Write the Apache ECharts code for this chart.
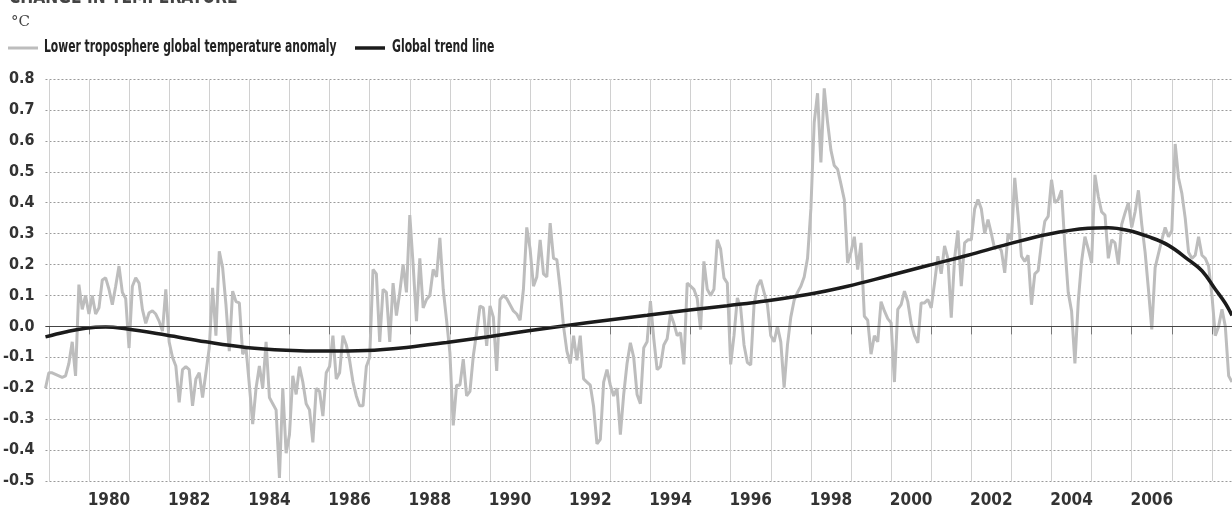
<!DOCTYPE html>
<html>
<head>
<meta charset="utf-8">
<script src="https://cdn.jsdelivr.net/npm/echarts@6/dist/echarts.min.js"></script>
<style>
html,body{margin:0;padding:0;background:#fff;}
#chart{width:1232px;height:509px;}
</style>
</head>
<body>
<div id="chart"></div>
<script>
// ---- DATA ----
var startYear = 1978, startMonth = 12, monthCount = 356;   // Dec 1978 .. Jul 2008
var titleText = 'CHANGE IN TEMPERATURE';
var unitText = '°C';
var seriesNames = ['Lower troposphere global temperature anomaly', 'Global trend line'];

// monthly lower troposphere anomaly (°C), Dec 1978 onward
var anomaly = [
-0.20,-0.15,-0.15,-0.155,-0.16,-0.165,-0.16,-0.12,-0.05,-0.16,
0.135,0.055,0.10,0.04,0.10,0.04,0.06,0.15,0.157,0.12,
0.07,0.13,0.195,0.11,0.09,-0.07,0.13,0.157,0.14,0.055,
0.01,0.044,0.05,0.04,0.017,-0.015,0.12,-0.05,-0.10,-0.128,
-0.246,-0.14,-0.13,-0.14,-0.257,-0.17,-0.15,-0.23,-0.15,-0.07,
0.125,-0.03,0.243,0.19,0.07,-0.08,0.114,0.08,0.076,-0.09,
-0.07,-0.19,-0.316,-0.20,-0.128,-0.20,-0.05,-0.23,-0.25,-0.27,
-0.49,-0.20,-0.41,-0.35,-0.16,-0.22,-0.13,-0.18,-0.25,-0.27,
-0.375,-0.20,-0.21,-0.29,-0.15,-0.13,-0.03,-0.17,-0.15,-0.03,
-0.06,-0.11,-0.18,-0.225,-0.257,-0.257,-0.13,-0.10,0.184,0.17,
-0.05,0.12,0.11,-0.05,0.14,0.035,0.11,0.20,0.11,0.36,
0.20,0.017,0.22,0.06,0.087,0.10,0.184,0.16,0.286,0.12,
0.02,-0.085,-0.32,-0.19,-0.19,-0.106,-0.225,-0.21,-0.096,-0.02,
0.066,0.06,-0.063,0.066,0.03,-0.144,0.087,0.10,0.09,0.07,
0.05,0.04,0.02,0.12,0.32,0.25,0.13,0.16,0.28,0.17,
0.16,0.334,0.22,0.216,0.12,0.0,-0.08,-0.12,-0.03,-0.11,
-0.03,-0.17,-0.18,-0.19,-0.26,-0.38,-0.365,-0.18,-0.14,-0.19,
-0.225,-0.20,-0.35,-0.22,-0.12,-0.053,-0.10,-0.22,-0.25,-0.069,
-0.05,0.082,-0.04,-0.14,-0.13,-0.06,-0.04,0.04,0.01,-0.03,
-0.02,-0.123,0.14,0.13,0.12,0.09,-0.01,0.21,0.12,0.10,
0.12,0.28,0.25,0.157,0.14,-0.123,-0.03,0.092,0.06,-0.06,
-0.117,-0.125,0.07,0.13,0.15,0.11,0.07,-0.03,-0.05,0.0,
-0.05,-0.198,-0.06,0.03,0.085,0.11,0.13,0.16,0.22,0.38,
0.66,0.754,0.53,0.77,0.66,0.57,0.52,0.508,0.46,0.41,
0.205,0.24,0.29,0.184,0.27,0.033,0.02,-0.09,-0.03,-0.05,
0.08,0.05,0.025,0.012,-0.18,0.055,0.07,0.114,0.08,0.01,
-0.03,-0.053,0.076,0.076,0.087,0.06,0.14,0.227,0.17,0.26,
0.22,0.028,0.22,0.31,0.13,0.27,0.28,0.28,0.38,0.41,
0.38,0.30,0.345,0.30,0.25,0.26,0.245,0.173,0.30,0.28,
0.48,0.36,0.227,0.21,0.23,0.07,0.17,0.18,0.27,0.34,
0.356,0.474,0.40,0.41,0.44,0.26,0.11,0.05,-0.12,0.08,
0.21,0.29,0.25,0.205,0.49,0.42,0.37,0.36,0.22,0.28,
0.27,0.20,0.33,0.367,0.40,0.32,0.37,0.44,0.33,0.24,
0.12,-0.01,0.19,0.235,0.28,0.32,0.29,0.31,0.59,0.48,
0.43,0.35,0.24,0.22,0.23,0.29,0.23,0.22,0.195,0.10,
-0.03,0.0,0.055,0.0,-0.16,-0.18
];

// global trend line, read at these months
var trendMonths = ['1978-12','1979-06','1979-12','1980-06','1980-12','1981-12','1982-12','1983-12','1984-12','1985-12',
  '1986-12','1987-12','1988-12','1989-12','1990-12','1991-12','1992-12','1993-12','1994-12','1995-12',
  '1996-12','1997-12','1998-12','1999-12','2000-12','2001-12','2002-12','2003-12','2004-12','2005-06',
  '2005-12','2006-06','2006-12','2007-06','2007-10','2008-02','2008-05','2008-07'];
var trendValues = [-0.034,-0.018,-0.006,-0.002,-0.008,-0.028,-0.05,-0.068,-0.077,-0.08,
  -0.078,-0.068,-0.052,-0.034,-0.015,0.003,0.02,0.036,0.052,0.067,
  0.083,0.103,0.13,0.163,0.197,0.23,0.266,0.298,0.317,0.319,
  0.31,0.29,0.262,0.215,0.18,0.12,0.075,0.035];

var yMin = -0.5, yMax = 0.8, yStep = 0.1;
var labelYears = [1980,1982,1984,1986,1988,1990,1992,1994,1996,1998,2000,2002,2004,2006];

// ---- BUILD ----
var months = [];
for (var k = 0; k < monthCount; k++) {
  var t = startYear * 12 + (startMonth - 1) + k;
  var y = Math.floor(t / 12), m = t % 12 + 1;
  months.push(y + '-' + (m < 10 ? '0' + m : '' + m));
}
var trendData = months.map(function (mo) {
  var j = trendMonths.indexOf(mo);
  return j >= 0 ? trendValues[j] : null;
});
function isJan(idx, val) { return /-01$/.test(val); }
function isLabel(idx, val) {
  return /-07$/.test(val) && labelYears.indexOf(+val.slice(0, 4)) >= 0;
}

var FONT = "'DejaVu Sans Condensed','Liberation Sans Narrow',sans-serif";
var GRAY = '#bdbdbd', BLACK = '#1b1b1b';

var chart = echarts.init(document.getElementById('chart'), null, {renderer: 'canvas'});
chart.setOption({
  animation: false,
  backgroundColor: '#fff',
  graphic: [
    {type: 'text', x: 9, y: 8, scaleX: 0.86,
     style: {text: titleText, font: "bold 20px 'DejaVu Sans Condensed'", fill: '#444', verticalAlign: 'bottom'}},
    {type: 'text', x: 11, y: 15,
     style: {text: unitText, font: "15px 'DejaVu Serif'", fill: '#444', verticalAlign: 'top'}},
    {type: 'line', shape: {x1: 8, y1: 48, x2: 38, y2: 48}, style: {stroke: GRAY, lineWidth: 3}},
    {type: 'text', x: 44, y: 48, scaleX: 0.705,
     style: {text: seriesNames[0], font: "bold 17px 'DejaVu Sans Condensed'", fill: '#222', verticalAlign: 'middle'}},
    {type: 'line', shape: {x1: 355, y1: 48, x2: 385, y2: 48}, style: {stroke: BLACK, lineWidth: 3.5}},
    {type: 'text', x: 392, y: 48, scaleX: 0.71,
     style: {text: seriesNames[1], font: "bold 17px 'DejaVu Sans Condensed'", fill: '#222', verticalAlign: 'middle'}}
  ],
  grid: {left: 44.7, right: 0, top: 79, bottom: 27, containLabel: false},
  xAxis: {
    type: 'category', data: months, boundaryGap: false,
    axisLine: {show: false},
    axisTick: {show: true, interval: isJan, length: 8, lineStyle: {color: '#777', width: 1}},
    splitLine: {show: true, interval: isJan, lineStyle: {color: '#d0d0d0', width: 1}},
    axisLabel: {interval: isLabel, formatter: function (v) { return v.slice(0, 4); },
      margin: 11, fontFamily: FONT, fontSize: 17, fontWeight: 'bold', color: '#333'}
  },
  yAxis: {
    type: 'value', min: yMin, max: yMax, interval: yStep,
    axisLine: {show: false}, axisTick: {show: false},
    splitLine: {show: true, lineStyle: {color: '#9a9a9a', width: 1, type: [2, 2]}},
    axisLabel: {formatter: function (v) { return v.toFixed(1); }, margin: 11,
      fontFamily: FONT, fontSize: 16, fontWeight: 'bold', color: '#333'}
  },
  series: [
    {
      name: seriesNames[0], type: 'line', data: anomaly, symbol: 'none',
      lineStyle: {color: GRAY, width: 3}, itemStyle: {color: GRAY},
      z: 2,
      markLine: {silent: true, symbol: 'none', label: {show: false},
        lineStyle: {color: '#444', width: 1, type: 'solid'},
        data: [{yAxis: 0}]}
    },
    {
      name: seriesNames[1], type: 'line', data: trendData, connectNulls: true,
      smooth: 0.4, symbol: 'none',
      lineStyle: {color: BLACK, width: 3.5}, itemStyle: {color: BLACK},
      z: 3
    }
  ]
});
</script>
</body>
</html>
